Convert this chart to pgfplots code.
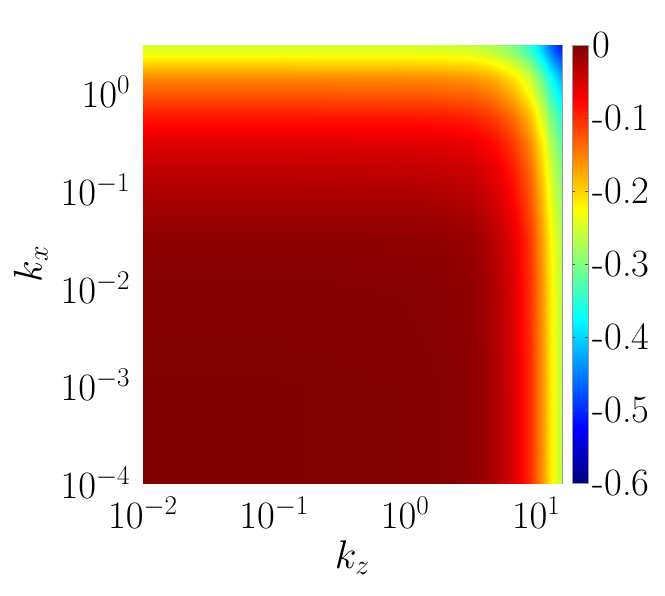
\RequirePackage{fix-cm}
\documentclass[border=0pt]{standalone}
\usepackage{pgfplots}
\pgfplotsset{compat=1.18}

\begin{document}
\begin{tikzpicture}
\begin{axis}[
    at={(0,0)}, anchor=south west,
    scale only axis,
    width=314.25pt, height=328.5pt,
    xmode=log, ymode=log,
    xmin=0.01, xmax=15.7,
    ymin=1e-4, ymax=3,
    xtick={0.01,0.1,1,10},
    ytick={1e-4,1e-3,1e-2,1e-1,1},
    tick align=inside,
    major tick length=3pt,
    minor tick length=1.8pt,
    axis line style={gray!80},
    every tick/.style={black!70},
    tick label style={font=\fontsize{29}{34}\selectfont},
    xticklabel style={yshift=-7pt},
    yticklabel style={xshift=-6pt},
    label style={font=\fontsize{30}{34}\selectfont},
    xlabel={$k_z$},
    ylabel={$k_x$},
    xlabel shift=2pt,
    ylabel shift=3pt,
    colormap/jet,
    point meta min=-0.6, point meta max=0,
    colorbar,
    colorbar shift/.style={xshift=5.25pt},
    colorbar style={
        width=12pt,
        ytick={-0.6,-0.5,-0.4,-0.3,-0.2,-0.1,0},
        yticklabels={-0.6,-0.5,-0.4,-0.3,-0.2,-0.1,0},
        tick align=inside,
        major tick length=2pt,
        axis line style={gray!80},
        yticklabel style={font=\fontsize{29}{34}\selectfont, xshift=0pt},
    },
]
% f(kz,kx) on a log grid
\addplot[surf, shader=interp, mesh/cols=16, point meta=explicit]
table[x=kz, y=kx, meta=f] {
kz kx f
0.01 1e-4 0
0.1 1e-4 0
1 1e-4 -0.001
2 1e-4 -0.003
3.162 1e-4 -0.008
3.981 1e-4 -0.016
5.012 1e-4 -0.028
6.310 1e-4 -0.048
7.079 1e-4 -0.062
7.943 1e-4 -0.080
8.913 1e-4 -0.100
10 1e-4 -0.130
11.22 1e-4 -0.165
12.59 1e-4 -0.205
14.13 1e-4 -0.240
15.7 1e-4 -0.265

0.01 1e-3 0
0.1 1e-3 0
1 1e-3 -0.001
2 1e-3 -0.003
3.162 1e-3 -0.008
3.981 1e-3 -0.016
5.012 1e-3 -0.028
6.310 1e-3 -0.048
7.079 1e-3 -0.062
7.943 1e-3 -0.080
8.913 1e-3 -0.100
10 1e-3 -0.130
11.22 1e-3 -0.165
12.59 1e-3 -0.205
14.13 1e-3 -0.240
15.7 1e-3 -0.265

0.01 1e-2 -0.002
0.1 1e-2 -0.002
1 1e-2 -0.003
2 1e-2 -0.005
3.162 1e-2 -0.010
3.981 1e-2 -0.018
5.012 1e-2 -0.030
6.310 1e-2 -0.050
7.079 1e-2 -0.064
7.943 1e-2 -0.082
8.913 1e-2 -0.102
10 1e-2 -0.132
11.22 1e-2 -0.167
12.59 1e-2 -0.207
14.13 1e-2 -0.242
15.7 1e-2 -0.267

0.01 0.03162 -0.008
0.1 0.03162 -0.008
1 0.03162 -0.009
2 0.03162 -0.011
3.162 0.03162 -0.016
3.981 0.03162 -0.024
5.012 0.03162 -0.036
6.310 0.03162 -0.056
7.079 0.03162 -0.070
7.943 0.03162 -0.088
8.913 0.03162 -0.108
10 0.03162 -0.138
11.22 0.03162 -0.173
12.59 0.03162 -0.213
14.13 0.03162 -0.248
15.7 0.03162 -0.273

0.01 0.1 -0.027
0.1 0.1 -0.027
1 0.1 -0.028
2 0.1 -0.030
3.162 0.1 -0.035
3.981 0.1 -0.043
5.012 0.1 -0.055
6.310 0.1 -0.075
7.079 0.1 -0.089
7.943 0.1 -0.107
8.913 0.1 -0.127
10 0.1 -0.157
11.22 0.1 -0.192
12.59 0.1 -0.232
14.13 0.1 -0.267
15.7 0.1 -0.292

0.01 0.1778 -0.040
0.1 0.1778 -0.040
1 0.1778 -0.041
2 0.1778 -0.043
3.162 0.1778 -0.048
3.981 0.1778 -0.056
5.012 0.1778 -0.068
6.310 0.1778 -0.088
7.079 0.1778 -0.102
7.943 0.1778 -0.120
8.913 0.1778 -0.140
10 0.1778 -0.170
11.22 0.1778 -0.205
12.59 0.1778 -0.245
14.13 0.1778 -0.280
15.7 0.1778 -0.305

0.01 0.3162 -0.058
0.1 0.3162 -0.058
1 0.3162 -0.059
2 0.3162 -0.061
3.162 0.3162 -0.066
3.981 0.3162 -0.074
5.012 0.3162 -0.086
6.310 0.3162 -0.106
7.079 0.3162 -0.120
7.943 0.3162 -0.138
8.913 0.3162 -0.158
10 0.3162 -0.188
11.22 0.3162 -0.223
12.59 0.3162 -0.263
14.13 0.3162 -0.298
15.7 0.3162 -0.323

0.01 0.5623 -0.088
0.1 0.5623 -0.088
1 0.5623 -0.089
2 0.5623 -0.091
3.162 0.5623 -0.096
3.981 0.5623 -0.104
5.012 0.5623 -0.116
6.310 0.5623 -0.136
7.079 0.5623 -0.150
7.943 0.5623 -0.168
8.913 0.5623 -0.188
10 0.5623 -0.218
11.22 0.5623 -0.253
12.59 0.5623 -0.293
14.13 0.5623 -0.328
15.7 0.5623 -0.353

0.01 1 -0.130
0.1 1 -0.130
1 1 -0.131
2 1 -0.133
3.162 1 -0.138
3.981 1 -0.146
5.012 1 -0.158
6.310 1 -0.178
7.079 1 -0.192
7.943 1 -0.210
8.913 1 -0.230
10 1 -0.260
11.22 1 -0.295
12.59 1 -0.335
14.13 1 -0.370
15.7 1 -0.395

0.01 1.259 -0.147
0.1 1.259 -0.147
1 1.259 -0.148
2 1.259 -0.150
3.162 1.259 -0.155
3.981 1.259 -0.163
5.012 1.259 -0.175
6.310 1.259 -0.195
7.079 1.259 -0.209
7.943 1.259 -0.227
8.913 1.259 -0.247
10 1.259 -0.277
11.22 1.259 -0.312
12.59 1.259 -0.352
14.13 1.259 -0.387
15.7 1.259 -0.412

0.01 1.585 -0.172
0.1 1.585 -0.172
1 1.585 -0.173
2 1.585 -0.175
3.162 1.585 -0.180
3.981 1.585 -0.188
5.012 1.585 -0.200
6.310 1.585 -0.220
7.079 1.585 -0.234
7.943 1.585 -0.252
8.913 1.585 -0.272
10 1.585 -0.302
11.22 1.585 -0.337
12.59 1.585 -0.377
14.13 1.585 -0.412
15.7 1.585 -0.437

0.01 1.995 -0.205
0.1 1.995 -0.205
1 1.995 -0.206
2 1.995 -0.208
3.162 1.995 -0.213
3.981 1.995 -0.221
5.012 1.995 -0.233
6.310 1.995 -0.253
7.079 1.995 -0.267
7.943 1.995 -0.285
8.913 1.995 -0.305
10 1.995 -0.335
11.22 1.995 -0.370
12.59 1.995 -0.410
14.13 1.995 -0.445
15.7 1.995 -0.470

0.01 2.512 -0.235
0.1 2.512 -0.235
1 2.512 -0.236
2 2.512 -0.238
3.162 2.512 -0.243
3.981 2.512 -0.251
5.012 2.512 -0.263
6.310 2.512 -0.283
7.079 2.512 -0.297
7.943 2.512 -0.315
8.913 2.512 -0.335
10 2.512 -0.365
11.22 2.512 -0.400
12.59 2.512 -0.440
14.13 2.512 -0.475
15.7 2.512 -0.500

0.01 3 -0.250
0.1 3 -0.250
1 3 -0.251
2 3 -0.253
3.162 3 -0.258
3.981 3 -0.266
5.012 3 -0.278
6.310 3 -0.298
7.079 3 -0.312
7.943 3 -0.330
8.913 3 -0.350
10 3 -0.380
11.22 3 -0.415
12.59 3 -0.455
14.13 3 -0.490
15.7 3 -0.515
};
\end{axis}
\pgfresetboundingbox
\path[use as bounding box] (-107.25pt,-84.75pt) rectangle (391.5pt,362.25pt);
\end{tikzpicture}
\end{document}
